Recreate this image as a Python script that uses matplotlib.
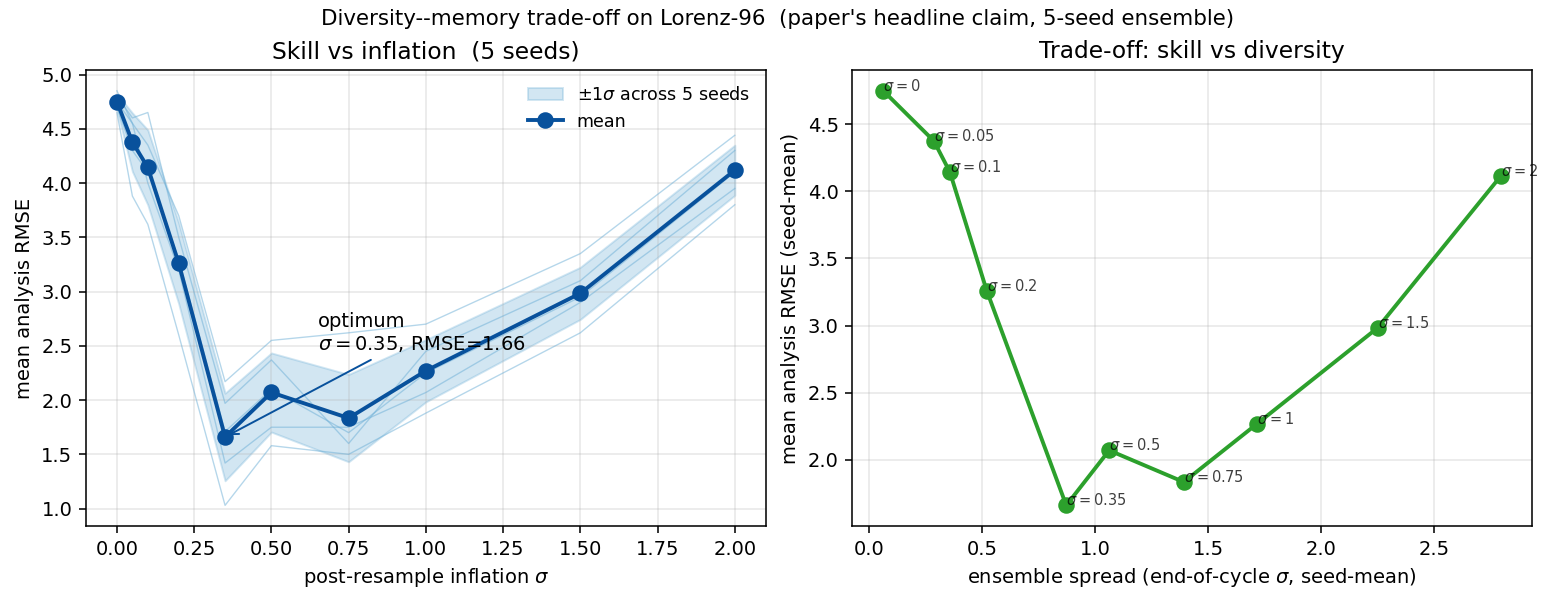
import matplotlib
matplotlib.use("Agg")
import matplotlib.pyplot as plt
import numpy as np

# inflation grid and per-seed analysis RMSE
sigmas = [0, 0.05, 0.1, 0.2, 0.35, 0.5, 0.75, 1.0, 1.5, 2.0]
seed_rmse = [
    [4.85, 4.55, 4.35, 3.70, 2.17, 2.55, 2.62, 2.70, 3.35, 4.44],
    [4.80, 4.60, 4.65, 3.50, 1.97, 2.37, 1.60, 2.45, 3.10, 4.30],
    [4.70, 4.30, 4.10, 3.30, 1.71, 2.10, 1.70, 2.25, 2.95, 4.10],
    [4.75, 4.55, 4.00, 3.20, 1.42, 1.75, 1.75, 2.07, 2.90, 3.95],
    [4.65, 3.88, 3.62, 2.60, 1.03, 1.58, 1.50, 1.88, 2.62, 3.80],
]
# seed-mean end-of-cycle ensemble spread
spread = [0.062, 0.286, 0.357, 0.52, 0.872, 1.062, 1.392, 1.718, 2.251, 2.797]

x = np.array(sigmas)
runs = np.array(seed_rmse)
mean = runs.mean(axis=0)
std = runs.std(axis=0)
ibest = int(np.argmin(mean))

DPI = 140
fig, (ax1, ax2) = plt.subplots(1, 2, figsize=(1556 / DPI, 604 / DPI), dpi=DPI)
fig.subplots_adjust(left=0.0553, right=0.9846, bottom=0.129, top=0.884, wspace=0.1275)

# left: skill vs inflation
for r in runs:
    ax1.plot(x, r, color="#6baed6", lw=0.7, alpha=0.5)
ax1.fill_between(x, mean - std, mean + std, color="#6baed6", alpha=0.3,
                 label=r"$\pm 1\sigma$ across 5 seeds")
ax1.plot(x, mean, "o-", color="#08519c", lw=2, ms=7.5, label="mean")
ax1.annotate("optimum\n" + r"$\sigma=%g$, RMSE=%.2f" % (x[ibest], mean[ibest]),
             xy=(x[ibest], mean[ibest]), xytext=(x[ibest] + 0.3, mean[ibest] + 0.8),
             arrowprops=dict(arrowstyle="->", color="#08519c", lw=1))
ax1.set_xlabel(r"post-resample inflation $\sigma$")
ax1.set_ylabel("mean analysis RMSE")
ax1.set_title("Skill vs inflation  (5 seeds)")
ax1.grid(alpha=0.3)
ax1.legend(loc="upper right", frameon=False, fontsize=9)

# right: trade-off
ax2.plot(spread, mean, "o-", color="tab:green", lw=2, ms=7.5)
for s, sx, sy in zip(sigmas, spread, mean):
    ax2.text(sx, sy, r"$\sigma=%g$" % s, fontsize=7.5, alpha=0.75)
ax2.set_xlabel(r"ensemble spread (end-of-cycle $\sigma$, seed-mean)")
ax2.set_ylabel("mean analysis RMSE (seed-mean)")
ax2.set_title("Trade-off: skill vs diversity")
ax2.grid(alpha=0.3)

fig.suptitle("Diversity--memory trade-off on Lorenz-96  (paper's headline claim, 5-seed ensemble)",
             fontsize=11, y=0.985)

fig.savefig("out.png", dpi=DPI)
